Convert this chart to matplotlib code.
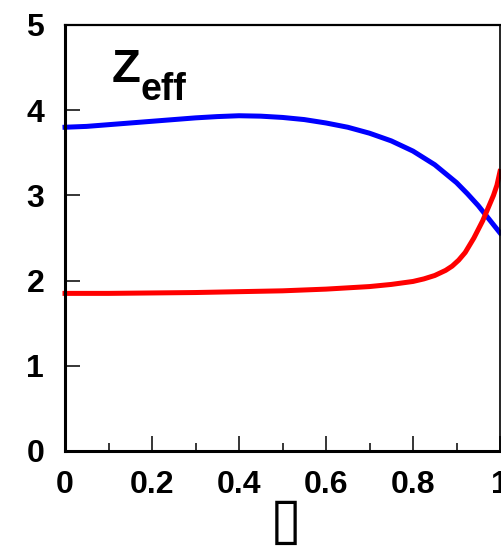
import numpy as np
import matplotlib
matplotlib.use("Agg")
import matplotlib.pyplot as plt
from matplotlib.ticker import MultipleLocator

# values
blue_x = [0, 0.05, 0.1, 0.15, 0.2, 0.25, 0.3, 0.35, 0.4, 0.45, 0.5, 0.55, 0.6, 0.65,
          0.7, 0.75, 0.8, 0.85, 0.9, 0.925, 0.95, 0.975, 1.0]
blue_y = [3.80, 3.81, 3.83, 3.85, 3.87, 3.89, 3.91, 3.925, 3.935, 3.93, 3.915, 3.89, 3.85, 3.80,
          3.73, 3.64, 3.52, 3.36, 3.15, 3.02, 2.88, 2.72, 2.56]

red_x = [0, 0.1, 0.2, 0.3, 0.4, 0.5, 0.6, 0.65, 0.7, 0.75, 0.8, 0.825, 0.85, 0.875,
         0.89, 0.905, 0.92, 0.94, 0.96, 0.975, 0.985, 0.993, 1.0]
red_y = [1.85, 1.85, 1.855, 1.86, 1.87, 1.88, 1.90, 1.915, 1.93, 1.955, 1.99, 2.02, 2.06, 2.12,
         2.17, 2.24, 2.33, 2.50, 2.70, 2.88, 3.00, 3.12, 3.28]

x_ticks = [0, 0.2, 0.4, 0.6, 0.8, 1]
x_ticklabels = ["0", "0.2", "0.4", "0.6", "0.8", "1"]
y_ticks = [0, 1, 2, 3, 4, 5]
y_ticklabels = ["0", "1", "2", "3", "4", "5"]

plt.rcParams['font.family'] = ['Liberation Sans', 'DejaVu Sans']
plt.rcParams['font.weight'] = 'bold'

fig = plt.figure(figsize=(5.01, 5.5), dpi=100)
ax = fig.add_axes([65 / 501, 99 / 550, 435 / 501, 426 / 550])

ax.plot(blue_x, blue_y, color='#0000ff', lw=3.6, solid_joinstyle='round', clip_on=False)
ax.plot(red_x, red_y, color='#ff0000', lw=3.6, solid_joinstyle='round', clip_on=False)

ax.set_xlim(0, 1)
ax.set_ylim(0, 5)
ax.set_xticks(x_ticks)
ax.set_xticklabels(x_ticklabels)
ax.set_yticks(y_ticks)
ax.set_yticklabels(y_ticklabels)
ax.xaxis.set_minor_locator(MultipleLocator(0.1))

ax.tick_params(axis='both', which='major', direction='in', length=11, width=1.1,
               labelsize=23, top=False, right=False)
ax.tick_params(axis='x', which='major', pad=14)
ax.tick_params(axis='y', which='major', pad=15)
ax.tick_params(axis='x', which='minor', direction='in', length=6, width=1.1, top=False)

ax.spines['left'].set_linewidth(2.2)
ax.spines['bottom'].set_linewidth(2.2)
ax.spines['top'].set_linewidth(1.6)
ax.spines['right'].set_linewidth(1.2)

# panel label Z_eff
fig.text(112 / 501, 1 - 82 / 550, "Z", fontsize=34, fontweight='bold', ha='left', va='baseline')
fig.text(141 / 501, 1 - 100 / 550, "eff", fontsize=27, fontweight='bold', ha='left', va='baseline')

# x axis label (shown as an empty box in the reference)
fig.text(286 / 501, 1 - 521 / 550, "\u25af", fontsize=42, fontweight='normal',
         family='DejaVu Sans', ha='center', va='center')

fig.savefig("out.png", dpi=100)
